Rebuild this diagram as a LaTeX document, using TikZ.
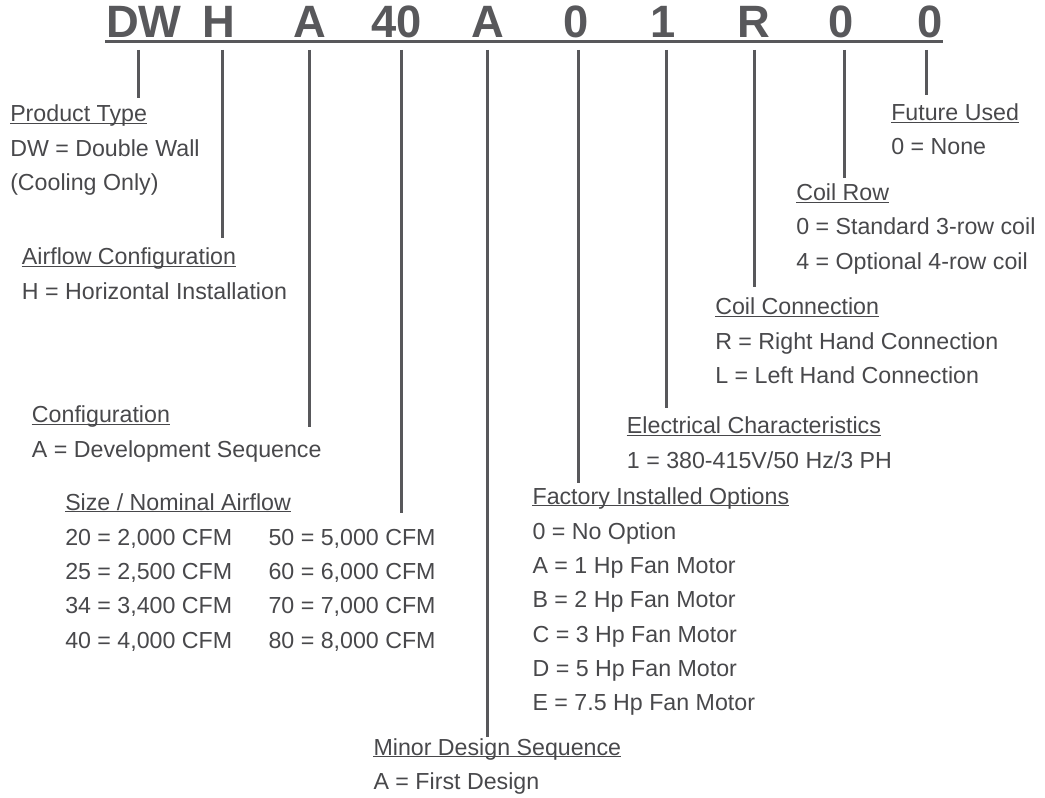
\documentclass[tikz,border=0pt]{standalone}
\usepackage{fontspec}
\setmainfont{Liberation Sans}
\definecolor{txt}{RGB}{72,72,75}
\definecolor{ln}{RGB}{88,88,91}
\newcommand{\ulin}[1]{\draw[uline] ([yshift=-1.4pt]#1.base west) -- ([yshift=-1.4pt]#1.base east);}
\begin{document}
\begin{tikzpicture}[x=0.75pt,y=-0.75pt,
  code/.style={font=\fontsize{34}{34}\selectfont\bfseries, text=ln, inner sep=0, anchor=base},
  lbl/.style={font=\fontsize{17.4}{17.4}\selectfont, text=txt, inner sep=0, anchor=base west},
  conn/.style={draw=ln, line width=2.25pt},
  uline/.style={draw=txt, line width=0.85pt}]
\useasboundingbox (0,0) rectangle (1045,798);

% header code
\node[code] (h1) at (144,37.5) {DW};
\node[code] (h2) at (219,37.5) {H};
\node[code] (h3) at (310.3,37.5) {A};
\node[code] (h4) at (397,37.5) {40};
\node[code] (h5) at (487.7,37.5) {A};
\node[code] (h6) at (575.7,37.5) {0};
\node[code] (h7) at (663,37.5) {1};
\node[code] (h8) at (753.7,37.5) {R};
\node[code] (h9) at (840.8,37.5) {0};
\node[code] (h10) at (929.7,37.5) {0};
\coordinate (hl) at (105,42);
\coordinate (hr) at (943,42);
\draw[conn] (hl) -- (hr);

% connectors
\coordinate (s1) at (138.3,50);  \coordinate (e1) at (138.3,98);
\coordinate (s2) at (222.3,50);  \coordinate (e2) at (222.3,238);
\coordinate (s3) at (309,50);    \coordinate (e3) at (309,427);
\coordinate (s4) at (401,50);    \coordinate (e4) at (401,513);
\coordinate (s5) at (487.7,50);  \coordinate (e5) at (487.7,737);
\coordinate (s6) at (578.3,50);  \coordinate (e6) at (578.3,483);
\coordinate (s7) at (666.7,50);  \coordinate (e7) at (666.7,408);
\coordinate (s8) at (754,50);    \coordinate (e8) at (754,287);
\coordinate (s9) at (844.3,50);  \coordinate (e9) at (844.3,178);
\coordinate (s10) at (926.7,50); \coordinate (e10) at (926.7,95);
\foreach \i in {1,...,10} {\draw[conn] (s\i) -- (e\i);}

% Product Type
\node[lbl] (t1) at (10,121.7) {Product Type}; \ulin{t1}
\node[lbl] (t1a) at (10,156.5) {DW = Double Wall};
\node[lbl] (t1b) at (10,191) {(Cooling Only)};

% Airflow Configuration
\node[lbl] (t2) at (21.7,265) {Airflow Configuration}; \ulin{t2}
\node[lbl] (t2a) at (21.7,300) {H = Horizontal Installation};

% Configuration
\node[lbl] (t3) at (31.7,422.7) {Configuration}; \ulin{t3}
\node[lbl] (t3a) at (31.7,457.3) {A = Development Sequence};

% Size / Nominal Airflow
\node[lbl] (t4) at (65,510) {Size / Nominal Airflow}; \ulin{t4}
\node[lbl] (t4a) at (65,545) {20 = 2,000 CFM};
\node[lbl] (t4b) at (65,579.5) {25 = 2,500 CFM};
\node[lbl] (t4c) at (65,613.7) {34 = 3,400 CFM};
\node[lbl] (t4d) at (65,648) {40 = 4,000 CFM};
\node[lbl] (t4e) at (268.3,545) {50 = 5,000 CFM};
\node[lbl] (t4f) at (268.3,579.5) {60 = 6,000 CFM};
\node[lbl] (t4g) at (268.3,613.7) {70 = 7,000 CFM};
\node[lbl] (t4h) at (268.3,648) {80 = 8,000 CFM};

% Minor Design Sequence
\node[lbl] (t5) at (373.3,755) {Minor Design Sequence}; \ulin{t5}
\node[lbl] (t5a) at (373.3,789.3) {A = First Design};

% Factory Installed Options
\node[lbl] (t6) at (532.3,504) {Factory Installed Options}; \ulin{t6}
\node[lbl] (t6a) at (532.3,539) {0 = No Option};
\node[lbl] (t6b) at (532.3,573.3) {A = 1 Hp Fan Motor};
\node[lbl] (t6c) at (532.3,607.7) {B = 2 Hp Fan Motor};
\node[lbl] (t6d) at (532.3,642) {C = 3 Hp Fan Motor};
\node[lbl] (t6e) at (532.3,676.3) {D = 5 Hp Fan Motor};
\node[lbl] (t6f) at (532.3,710.7) {E = 7.5 Hp Fan Motor};

% Electrical Characteristics
\node[lbl] (t7) at (626.7,433.3) {Electrical Characteristics}; \ulin{t7}
\node[lbl] (t7a) at (626.7,468) {1 = 380-415V/50 Hz/3 PH};

% Coil Connection
\node[lbl] (t8) at (715,315) {Coil Connection}; \ulin{t8}
\node[lbl] (t8a) at (715,349.3) {R = Right Hand Connection};
\node[lbl] (t8b) at (715,383.6) {L = Left Hand Connection};

% Coil Row
\node[lbl] (t9) at (796,200.7) {Coil Row}; \ulin{t9}
\node[lbl] (t9a) at (796,235) {0 = Standard 3-row coil};
\node[lbl] (t9b) at (796,269.3) {4 = Optional 4-row coil};

% Future Used
\node[lbl] (t10) at (891,120.7) {Future Used}; \ulin{t10}
\node[lbl] (t10a) at (891,155) {0 = None};
\end{tikzpicture}
\end{document}
